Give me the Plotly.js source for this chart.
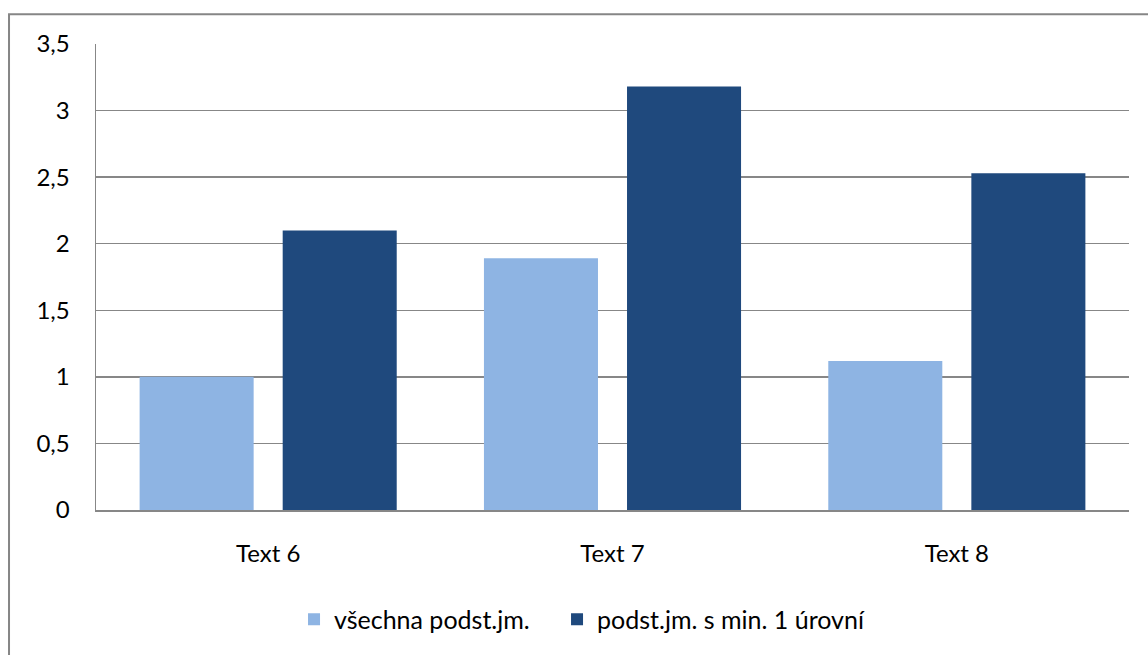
<!DOCTYPE html>
<html>
<head>
<meta charset="utf-8">
<script src="https://cdn.plot.ly/plotly-3.0.1.min.js"></script>
<style>
  html, body { margin: 0; padding: 0; background: #ffffff; }
  #chart { width: 1148px; height: 655px; }
</style>
</head>
<body>
<div id="chart"></div>
<script>
// Categories and series values
const categories = ["Text 6", "Text 7", "Text 8"];
const seriesAllName = "všechna podst.jm.";
const seriesAll = [1.0, 1.89, 1.12];
const seriesMinName = "podst.jm. s min. 1 úrovní";
const seriesMin = [2.10, 3.18, 2.53];
const yTicks = [0, 0.5, 1, 1.5, 2, 2.5, 3, 3.5];

const fontFamily = "Lato, 'Open Sans', 'DejaVu Sans', sans-serif";
const gridGrey = "#878787";
const textSize = 24;

const traces = [
  {
    type: "bar",
    name: seriesAllName,
    x: categories,
    y: seriesAll,
    legend: "legend",
    marker: { color: "#8EB4E3", line: { width: 0 } },
    hoverinfo: "x+y"
  },
  {
    type: "bar",
    name: seriesMinName,
    x: categories,
    y: seriesMin,
    legend: "legend2",
    marker: { color: "#1F497D", line: { width: 0 } },
    hoverinfo: "x+y"
  }
];

// one legend box per series, laid out side by side below the axis
function legendBox(xPos) {
  return {
    orientation: "h",
    x: xPos,
    xanchor: "left",
    y: -0.235,
    yanchor: "middle",
    font: { family: fontFamily, size: 25, color: "#000000" },
    itemwidth: 30,
    bgcolor: "rgba(0,0,0,0)"
  };
}

const layout = {
  width: 1148,
  height: 655,
  paper_bgcolor: "#ffffff",
  plot_bgcolor: "#ffffff",
  separators: ", ",
  font: { family: fontFamily, size: textSize, color: "#000000" },
  margin: { l: 96, r: 19, t: 44, b: 143, pad: 0 },
  barmode: "group",
  bargap: 0.169,
  bargroupgap: 0.203,
  showlegend: true,
  legend: legendBox(0.1917),
  legend2: legendBox(0.4463),
  xaxis: {
    type: "category",
    showgrid: false,
    showline: true,
    linecolor: gridGrey,
    linewidth: 1.5,
    ticks: "outside",
    ticklen: 22,
    tickcolor: "rgba(0,0,0,0)",
    tickfont: { family: fontFamily, size: textSize, color: "#000000" },
    zeroline: false,
    fixedrange: true
  },
  yaxis: {
    range: [0, 3.5],
    tickvals: yTicks,
    showgrid: true,
    gridcolor: gridGrey,
    gridwidth: 1.5,
    showline: true,
    linecolor: gridGrey,
    linewidth: 1.5,
    zeroline: false,
    ticks: "outside",
    ticklen: 20,
    tickcolor: "rgba(0,0,0,0)",
    tickfont: { family: fontFamily, size: textSize, color: "#000000" },
    fixedrange: true
  },
  shapes: [
    {
      // chart area frame
      type: "rect",
      xref: "paper",
      yref: "paper",
      x0: -0.0842,
      x1: 1.2,
      y0: -0.5,
      y1: 1.064,
      line: { color: "#868686", width: 2 },
      fillcolor: "rgba(0,0,0,0)",
      layer: "below"
    }
  ]
};

Plotly.newPlot("chart", traces, layout, { displayModeBar: false, staticPlot: true });
</script>
</body>
</html>
